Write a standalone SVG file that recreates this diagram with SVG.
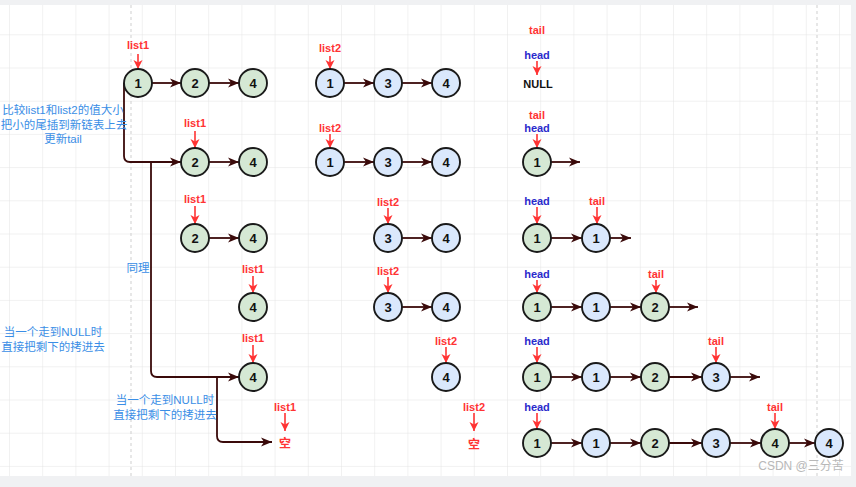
<svg xmlns="http://www.w3.org/2000/svg" width="856" height="487" viewBox="0 0 856 487">
<defs>
<pattern id="grid" x="9" y="1.1" width="33.2" height="33.2" patternUnits="userSpaceOnUse">
<path d="M0,0 H33.2 M0,0 V33.2" fill="none" stroke="#e3e3e3" stroke-width="1"/>
</pattern>
<marker id="ah" markerUnits="userSpaceOnUse" markerWidth="12" markerHeight="10" refX="11" refY="5" orient="auto">
<path d="M0,0.5 L11,5 L0,9.5 L3,5 z" fill="#3a0a0a"/>
</marker>
<marker id="rh" markerUnits="userSpaceOnUse" markerWidth="10" markerHeight="10" refX="9" refY="4.5" orient="auto">
<path d="M0,0 L9,4.5 L0,9 L2.5,4.5 z" fill="#ff3333"/>
</marker>
<style>
.n circle{stroke:#1a1a1a;stroke-width:1.9}
.g circle{fill:#d5e8d4}
.b circle{fill:#dae8fc}
.n text{font-family:"Liberation Sans",Arial,sans-serif;font-size:13px;font-weight:bold;fill:#111;text-anchor:middle;dominant-baseline:central}
.lbl{font-family:"Liberation Sans",Arial,sans-serif;font-size:11px;font-weight:bold;text-anchor:middle;dominant-baseline:central}
.red{fill:#ff3333}
.blu{fill:#2b2bcc}
.blk{fill:#111}
.ptr{stroke:#ff3333;stroke-width:1.6;fill:none;marker-end:url(#rh)}
.edge{stroke:#3a0a0a;stroke-width:1.8;fill:none;marker-end:url(#ah)}
.note{font-family:"Liberation Sans","Noto Sans CJK SC",sans-serif;font-size:11.5px;fill:#3a8ee6;text-anchor:middle;dominant-baseline:central}
.kong{font-family:"Noto Sans CJK SC",sans-serif;font-size:12px;font-weight:bold;fill:#ff3333;text-anchor:middle;dominant-baseline:central}
</style>
</defs>
<rect width="856" height="487" fill="#ffffff"/>
<rect width="856" height="487" fill="url(#grid)"/>
<line x1="131" y1="5" x2="131" y2="476" stroke="#cfcfcf" stroke-dasharray="3,3"/>
<line x1="817" y1="5" x2="817" y2="476" stroke="#cfcfcf" stroke-dasharray="3,3"/>
<rect x="0" y="0" width="856" height="5" fill="#f0f1f3"/>
<rect x="0" y="476" width="856" height="11" fill="#f0f1f3"/>
<rect x="851" y="0" width="5" height="487" fill="#f0f1f3"/>

<g id="connectors">
<line class="edge" x1="152" y1="83" x2="181" y2="83"/>
<line class="edge" x1="209" y1="83" x2="239" y2="83"/>
<line class="edge" x1="344" y1="83" x2="374" y2="83"/>
<line class="edge" x1="402" y1="83" x2="432" y2="83"/>
<path class="edge" d="M124,83 L124,156 Q124,162 130,162 L181,162"/>
<line class="edge" x1="209" y1="162" x2="239" y2="162"/>
<line class="edge" x1="344" y1="162" x2="374" y2="162"/>
<line class="edge" x1="402" y1="162" x2="432" y2="162"/>
<line class="edge" x1="551" y1="162" x2="580" y2="162"/>
<line class="edge" x1="209" y1="238" x2="239" y2="238"/>
<line class="edge" x1="402" y1="238" x2="432" y2="238"/>
<line class="edge" x1="551" y1="238" x2="582" y2="238"/>
<line class="edge" x1="610" y1="238" x2="631" y2="238"/>
<line class="edge" x1="402" y1="307" x2="432" y2="307"/>
<line class="edge" x1="551" y1="307" x2="582" y2="307"/>
<line class="edge" x1="610" y1="307" x2="641" y2="307"/>
<line class="edge" x1="669" y1="307" x2="698" y2="307"/>
<path class="edge" d="M151,162 L151,371 Q151,377 157,377 L239,377"/>
<line class="edge" x1="551" y1="377" x2="582" y2="377"/>
<line class="edge" x1="610" y1="377" x2="641" y2="377"/>
<line class="edge" x1="669" y1="377" x2="702" y2="377"/>
<line class="edge" x1="730" y1="377" x2="760" y2="377"/>
<path class="edge" d="M217,377 L217,436 Q217,442 223,442 L272,442"/>
<line class="edge" x1="551" y1="443" x2="582" y2="443"/>
<line class="edge" x1="610" y1="443" x2="641" y2="443"/>
<line class="edge" x1="669" y1="443" x2="702" y2="443"/>
<line class="edge" x1="730" y1="443" x2="761" y2="443"/>
<line class="edge" x1="789" y1="443" x2="815" y2="443"/>
</g>

<g id="pointers">
<line class="ptr" x1="138" y1="54" x2="138" y2="69"/>
<line class="ptr" x1="330" y1="56" x2="330" y2="69"/>
<line class="ptr" x1="537" y1="61" x2="537" y2="75"/>
<line class="ptr" x1="195" y1="131" x2="195" y2="148"/>
<line class="ptr" x1="330" y1="134" x2="330" y2="148"/>
<line class="ptr" x1="537" y1="134" x2="537" y2="148"/>
<line class="ptr" x1="195" y1="206" x2="195" y2="224"/>
<line class="ptr" x1="388" y1="208" x2="388" y2="224"/>
<line class="ptr" x1="537" y1="207" x2="537" y2="224"/>
<line class="ptr" x1="597" y1="207" x2="597" y2="224"/>
<line class="ptr" x1="253" y1="276" x2="253" y2="293"/>
<line class="ptr" x1="388" y1="277" x2="388" y2="293"/>
<line class="ptr" x1="537" y1="280" x2="537" y2="293"/>
<line class="ptr" x1="656" y1="280" x2="656" y2="293"/>
<line class="ptr" x1="253" y1="345" x2="253" y2="363"/>
<line class="ptr" x1="446" y1="347" x2="446" y2="363"/>
<line class="ptr" x1="537" y1="347" x2="537" y2="363"/>
<line class="ptr" x1="716" y1="347" x2="716" y2="363"/>
<line class="ptr" x1="285" y1="413" x2="285" y2="431"/>
<line class="ptr" x1="474" y1="413" x2="474" y2="431"/>
<line class="ptr" x1="537" y1="413" x2="537" y2="429"/>
<line class="ptr" x1="775" y1="413" x2="775" y2="429"/>
</g>

<g id="labels">
<text class="lbl red" x="138" y="45">list1</text>
<text class="lbl red" x="330" y="48">list2</text>
<text class="lbl red" x="537" y="30">tail</text>
<text class="lbl blu" x="537" y="55">head</text>
<text class="lbl blk" x="538" y="84">NULL</text>
<text class="lbl red" x="195" y="123">list1</text>
<text class="lbl red" x="330" y="128">list2</text>
<text class="lbl red" x="537" y="115">tail</text>
<text class="lbl blu" x="537" y="128">head</text>
<text class="lbl red" x="195" y="199">list1</text>
<text class="lbl red" x="388" y="202">list2</text>
<text class="lbl blu" x="537" y="201">head</text>
<text class="lbl red" x="597" y="201">tail</text>
<text class="lbl red" x="253" y="269">list1</text>
<text class="lbl red" x="388" y="271">list2</text>
<text class="lbl blu" x="537" y="274">head</text>
<text class="lbl red" x="656" y="274">tail</text>
<text class="lbl red" x="253" y="338">list1</text>
<text class="lbl red" x="446" y="341">list2</text>
<text class="lbl blu" x="537" y="341">head</text>
<text class="lbl red" x="716" y="341">tail</text>
<text class="lbl red" x="285" y="407">list1</text>
<text class="lbl red" x="474" y="407">list2</text>
<text class="lbl blu" x="537" y="407">head</text>
<text class="lbl red" x="775" y="407">tail</text>
<text class="kong" x="285" y="442">空</text>
<text class="kong" x="474" y="443">空</text>
<text class="note" x="63" y="110">比较list1和list2的值大小</text>
<text class="note" x="64" y="125">把小的尾插到新链表上去</text>
<text class="note" x="63" y="139">更新tail</text>
<text class="note" x="138" y="268">同理</text>
<text class="note" x="53" y="332">当一个走到NULL时</text>
<text class="note" x="53" y="347">直接把剩下的拷进去</text>
<text class="note" x="165" y="400">当一个走到NULL时</text>
<text class="note" x="165" y="415">直接把剩下的拷进去</text>
<text x="801" y="466" font-family="Liberation Sans,Noto Sans CJK SC,sans-serif" font-size="12" fill="#b8b8b8" text-anchor="middle" dominant-baseline="central">CSDN @三分苦</text>
</g>

<g id="r1a1" class="n g"><circle cx="138" cy="83" r="14"/><text x="138" y="83">1</text></g>
<g id="r1a2" class="n g"><circle cx="195" cy="83" r="14"/><text x="195" y="83">2</text></g>
<g id="r1a4" class="n g"><circle cx="253" cy="83" r="14"/><text x="253" y="83">4</text></g>
<g id="r1b1" class="n b"><circle cx="330" cy="83" r="14"/><text x="330" y="83">1</text></g>
<g id="r1b3" class="n b"><circle cx="388" cy="83" r="14"/><text x="388" y="83">3</text></g>
<g id="r1b4" class="n b"><circle cx="446" cy="83" r="14"/><text x="446" y="83">4</text></g>
<g id="r2a2" class="n g"><circle cx="195" cy="162" r="14"/><text x="195" y="162">2</text></g>
<g id="r2a4" class="n g"><circle cx="253" cy="162" r="14"/><text x="253" y="162">4</text></g>
<g id="r2b1" class="n b"><circle cx="330" cy="162" r="14"/><text x="330" y="162">1</text></g>
<g id="r2b3" class="n b"><circle cx="388" cy="162" r="14"/><text x="388" y="162">3</text></g>
<g id="r2b4" class="n b"><circle cx="446" cy="162" r="14"/><text x="446" y="162">4</text></g>
<g id="r2r1" class="n g"><circle cx="537" cy="162" r="14"/><text x="537" y="162">1</text></g>
<g id="r3a2" class="n g"><circle cx="195" cy="238" r="14"/><text x="195" y="238">2</text></g>
<g id="r3a4" class="n g"><circle cx="253" cy="238" r="14"/><text x="253" y="238">4</text></g>
<g id="r3b3" class="n b"><circle cx="388" cy="238" r="14"/><text x="388" y="238">3</text></g>
<g id="r3b4" class="n b"><circle cx="446" cy="238" r="14"/><text x="446" y="238">4</text></g>
<g id="r3r1" class="n g"><circle cx="537" cy="238" r="14"/><text x="537" y="238">1</text></g>
<g id="r3r2" class="n b"><circle cx="596" cy="238" r="14"/><text x="596" y="238">1</text></g>
<g id="r4a4" class="n g"><circle cx="253" cy="307" r="14"/><text x="253" y="307">4</text></g>
<g id="r4b3" class="n b"><circle cx="388" cy="307" r="14"/><text x="388" y="307">3</text></g>
<g id="r4b4" class="n b"><circle cx="446" cy="307" r="14"/><text x="446" y="307">4</text></g>
<g id="r4r1" class="n g"><circle cx="537" cy="307" r="14"/><text x="537" y="307">1</text></g>
<g id="r4r2" class="n b"><circle cx="596" cy="307" r="14"/><text x="596" y="307">1</text></g>
<g id="r4r3" class="n g"><circle cx="655" cy="307" r="14"/><text x="655" y="307">2</text></g>
<g id="r5a4" class="n g"><circle cx="253" cy="377" r="14"/><text x="253" y="377">4</text></g>
<g id="r5b4" class="n b"><circle cx="446" cy="377" r="14"/><text x="446" y="377">4</text></g>
<g id="r5r1" class="n g"><circle cx="537" cy="377" r="14"/><text x="537" y="377">1</text></g>
<g id="r5r2" class="n b"><circle cx="596" cy="377" r="14"/><text x="596" y="377">1</text></g>
<g id="r5r3" class="n g"><circle cx="655" cy="377" r="14"/><text x="655" y="377">2</text></g>
<g id="r5r4" class="n b"><circle cx="716" cy="377" r="14"/><text x="716" y="377">3</text></g>
<g id="r6r1" class="n g"><circle cx="537" cy="443" r="14"/><text x="537" y="443">1</text></g>
<g id="r6r2" class="n b"><circle cx="596" cy="443" r="14"/><text x="596" y="443">1</text></g>
<g id="r6r3" class="n g"><circle cx="655" cy="443" r="14"/><text x="655" y="443">2</text></g>
<g id="r6r4" class="n b"><circle cx="716" cy="443" r="14"/><text x="716" y="443">3</text></g>
<g id="r6r5" class="n g"><circle cx="775" cy="443" r="14"/><text x="775" y="443">4</text></g>
<g id="r6r6" class="n b"><circle cx="829" cy="443" r="14"/><text x="829" y="443">4</text></g>
</svg>
